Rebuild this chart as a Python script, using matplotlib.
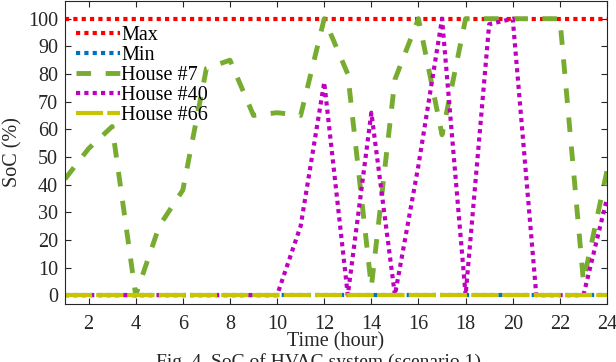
import numpy as np
import matplotlib.pyplot as plt

plt.rc('font', family=['Liberation Serif', 'DejaVu Serif'])
plt.rcParams['mathtext.fontset'] = 'stix'

# dados (SoC em %, horas 1..24)
hours = np.arange(1, 25)
soc_max = [100] * 24
soc_min = [0] * 24
house7 = [42, 53, 61, 0, 25, 38, 82, 85, 65, 66, 65, 100,
          80, 3, 78, 100, 58, 100, 100, 100, 100, 100, 5, 45]
house40 = [0, 0, 0, 0, 0, 0, 0, 0, 0, 0, 25, 77,
           0, 66, 0, 47, 100, 0, 98, 100, 0, 0, 0, 35]
house66 = [0] * 24

names = ['Max', 'Min', 'House #7', 'House #40', 'House #66']
cores = ['#ff0000', '#0072bd', '#77ac30', '#c000c0', '#c8c400']

fig = plt.figure(figsize=(6.16, 3.62), dpi=100)
ax = fig.add_axes([65/616, 58/362, 542/616, 303/362])

ax.plot(hours, soc_max, color=cores[0], lw=3, ls=(0, (1, 1)),
        dash_capstyle='butt', label=names[0])
ax.plot(hours, soc_min, color=cores[1], lw=3, ls=(0, (1, 1)),
        dash_capstyle='butt', label=names[1])
ax.plot(hours, house7, color=cores[2], lw=3.5, ls=(0, (3, 3)),
        dash_capstyle='butt', label=names[2])
ax.plot(hours, house40, color=cores[3], lw=3, ls=(0, (1, 1)),
        dash_capstyle='butt', label=names[3])
ax.plot(hours, house66, color=cores[4], lw=3, ls=(0, (6.5, 1)),
        dash_capstyle='butt', label=names[4])

ax.set_xlim(1, 24)
ax.set_ylim(-3.2, 106.4)
ax.set_xticks(np.arange(2, 25, 2))
ax.set_yticks(np.arange(0, 101, 10))
ax.tick_params(direction='in', top=True, right=True, length=4, width=0.8,
               labelsize=14.5, colors='#262626')
ax.tick_params(axis='x', pad=8)
ax.tick_params(axis='y', pad=5)
for s in ax.spines.values():
    s.set_linewidth(0.8)
    s.set_color('#262626')

ax.set_xlabel('Time (hour)', fontsize=14.5, labelpad=-1, color='#262626')
ax.set_ylabel('SoC (%)', fontsize=14.5, labelpad=4, color='#262626')

leg = ax.legend(loc='upper left', frameon=False, fontsize=14.5,
                handlelength=2.2, handletextpad=0.05, labelspacing=0.05,
                borderaxespad=0.0, bbox_to_anchor=(0.005, 0.945))

fig.text(318/616, 1 - 353/362, 'Fig. 4. SoC of HVAC system (scenario 1)',
         ha='center', va='top', fontsize=14, color='#262626')

plt.savefig('out.png', dpi=100)
plt.close()
